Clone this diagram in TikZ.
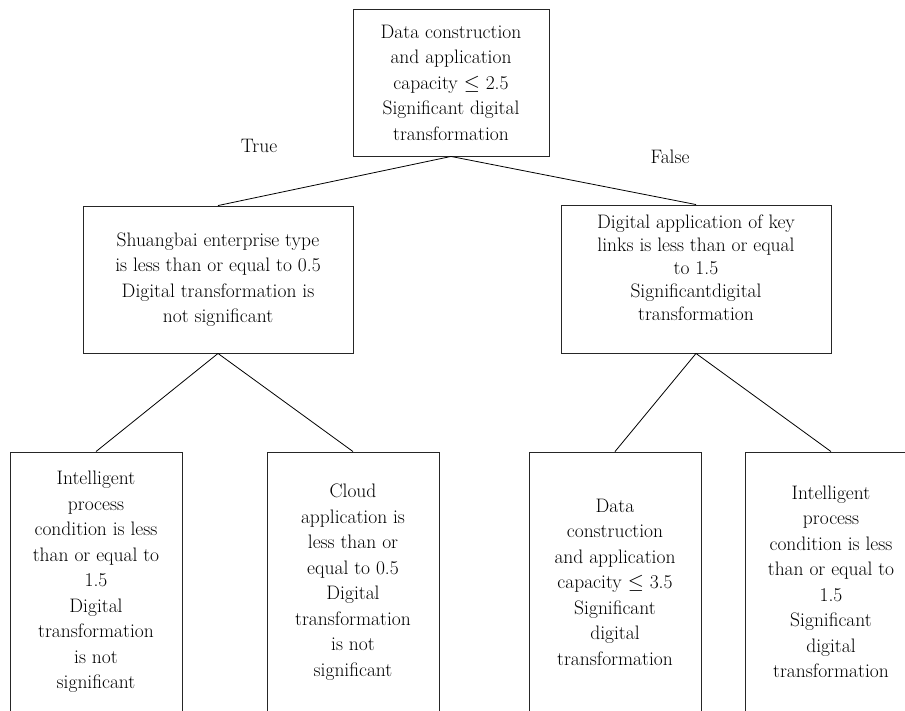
\documentclass[tikz,border=0pt]{standalone}

\begin{document}
\begin{tikzpicture}[x=1pt, y=-1pt,
    box/.style={draw=black!85, line width=0.9pt, align=center, inner sep=0pt,
      font=\fontsize{19.5}{25.5}\selectfont},
    mid/.style={box, minimum width=270, minimum height=147},
    leaf/.style={box, minimum width=172, minimum height=260},
    split/.style={line width=0.8pt}]
  \useasboundingbox (0,0) rectangle (905,710);
  \clip (0,0) rectangle (905,710);

  % Root and first split
  \node[box, minimum width=196, minimum height=147] (root) at (451,82.5)
    {Data construction\\and application\\capacity $\leq$ 2.5\\Significant digital\\transformation};
  \node[mid] (shuangbai) at (218,279.5)
    {Shuangbai enterprise type\\is less than or equal to 0.5\\Digital transformation is\\not significant};
  \node[mid, minimum height=148, font=\fontsize{19.5}{23}\selectfont] (keylinks) at (696,279)
    {Digital application of key\\links is less than or equal\\to 1.5\\Significantdigital\\transformation\\\mbox{}};
  \node[font=\fontsize{19.5}{25.5}\selectfont] (true) at (259,146) {True};
  \node[font=\fontsize{19.5}{25.5}\selectfont] (false) at (670,157) {False};

  % Leaves
  \node[leaf] (process1) at (96,582)
    {Intelligent\\process\\condition is less\\than or equal to\\1.5\\Digital\\transformation\\is not\\significant};
  \node[leaf] (cloud) at (353,582)
    {Cloud\\application is\\less than or\\equal to 0.5\\Digital\\transformation\\is not\\significant};
  \node[leaf] (capacity) at (615,582)
    {Data\\construction\\and application\\capacity $\leq$ 3.5\\Significant\\digital\\transformation};
  \node[leaf] (process2) at (831,582)
    {Intelligent\\process\\condition is less\\than or equal to\\1.5\\Significant\\digital\\transformation};

  \draw[split] (root.south) -- (shuangbai.north);
  \draw[split] (root.south) -- (keylinks.north);
  \draw[split] (shuangbai.south) -- (process1.north);
  \draw[split] (shuangbai.south) -- (cloud.north);
  \draw[split] (keylinks.south) -- (capacity.north);
  \draw[split] (keylinks.south) -- (process2.north);
\end{tikzpicture}
\end{document}
